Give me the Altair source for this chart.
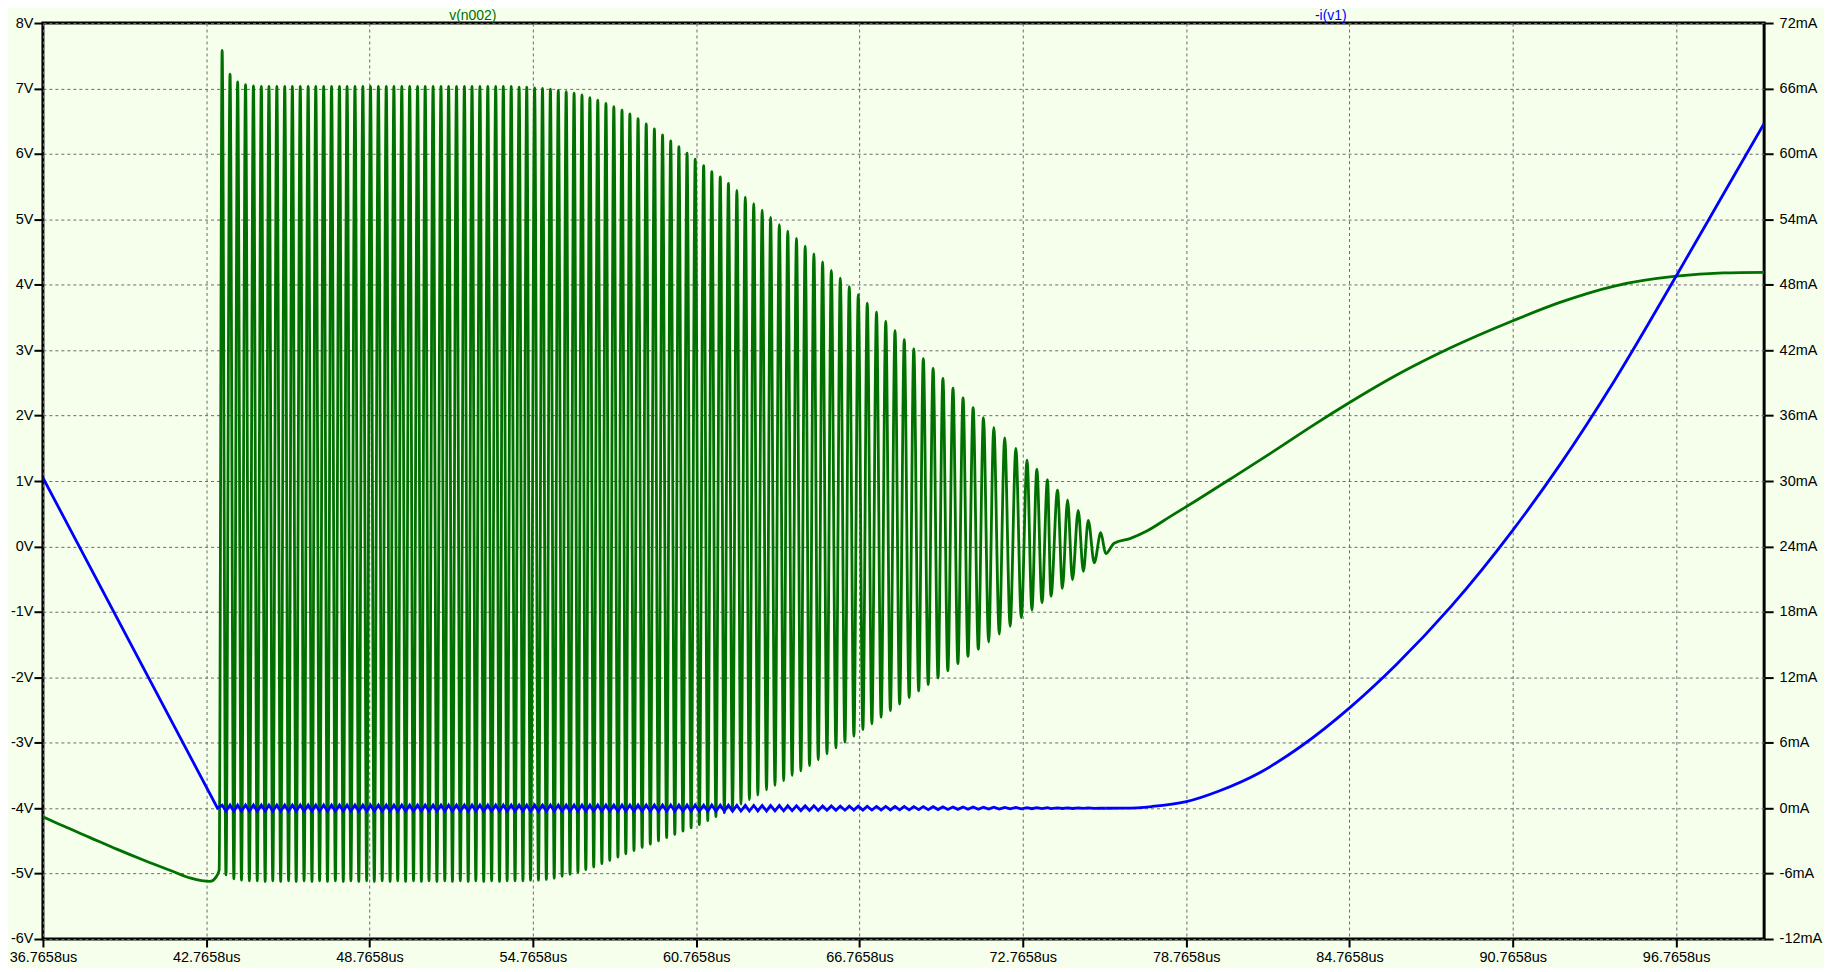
import altair as alt
import pandas as pd

# ---------------- axis ticks ----------------
x_ticks = [36.7658, 42.7658, 48.7658, 54.7658, 60.7658, 66.7658,
           72.7658, 78.7658, 84.7658, 90.7658, 96.7658]
v_ticks = [-6, -5, -4, -3, -2, -1, 0, 1, 2, 3, 4, 5, 6, 7, 8]
i_ticks = [-12, -6, 0, 6, 12, 18, 24, 30, 36, 42, 48, 54, 60, 66, 72]

# ---------------- v(n002) ----------------
v_pre_t = [36.7658, 37.5, 38.5, 39.5, 40.5, 41.5, 42.2, 42.9, 43.13, 43.24]
v_pre_v = [-4.13, -4.27, -4.45, -4.63, -4.80, -4.96, -5.07, -5.12, -5.05, -4.95]

v_peak_t = [43.35, 43.64, 43.92, 44.21, 44.50, 44.79, 45.07, 45.36, 45.65, 45.93,
            46.22, 46.51, 46.79, 47.08, 47.37, 47.66, 47.94, 48.23, 48.52, 48.80,
            49.09, 49.38, 49.66, 49.95, 50.24, 50.53, 50.81, 51.10, 51.39, 51.67,
            51.96, 52.25, 52.53, 52.82, 53.11, 53.40, 53.68, 53.97, 54.26, 54.54,
            54.83,
            55.12, 55.41, 55.70, 55.99, 56.28, 56.57, 56.86, 57.15, 57.45, 57.74,
            58.04, 58.33, 58.63, 58.93, 59.23, 59.53, 59.83, 60.13, 60.43, 60.73,
            61.04, 61.34,
            61.65, 61.95, 62.26, 62.57, 62.88, 63.19, 63.50, 63.82, 64.13, 64.45,
            64.77, 65.09, 65.41, 65.73, 66.06, 66.39, 66.72, 67.05, 67.39, 67.73,
            68.07, 68.41, 68.76, 69.11,
            69.47, 69.83, 70.20, 70.57, 70.94, 71.32, 71.70, 72.10, 72.51, 72.92,
            73.28, 73.67, 74.04, 74.41, 74.80, 75.17, 75.63]
v_peak_v = [7.58, 7.22, 7.10, 7.06, 7.04, 7.03, 7.03, 7.03, 7.03, 7.03,
            7.03, 7.03, 7.03, 7.03, 7.03, 7.03, 7.03, 7.03, 7.03, 7.03,
            7.03, 7.03, 7.03, 7.03, 7.03, 7.03, 7.03, 7.03, 7.03, 7.03,
            7.03, 7.03, 7.03, 7.03, 7.03, 7.03, 7.03, 7.03, 7.02, 7.02,
            7.01,
            7.00, 6.99, 6.97, 6.95, 6.93, 6.90, 6.86, 6.82, 6.77, 6.72,
            6.67, 6.61, 6.54, 6.46, 6.38, 6.29, 6.20, 6.11, 6.01, 5.92,
            5.82, 5.73,
            5.65, 5.55, 5.44, 5.34, 5.24, 5.14, 5.03, 4.92, 4.82, 4.71,
            4.59, 4.47, 4.35, 4.22, 4.10, 3.97, 3.85, 3.72, 3.58, 3.44,
            3.30, 3.16, 3.02, 2.87,
            2.72, 2.57, 2.42, 2.27, 2.12, 1.97, 1.82, 1.66, 1.50, 1.32,
            1.18, 1.02, 0.86, 0.71, 0.55, 0.40, 0.21]
v_trough_t = [43.49, 43.78, 44.06, 44.35, 44.64, 44.93, 45.21, 45.50, 45.79, 46.07,
              46.36, 46.65, 46.93, 47.22, 47.51, 47.80, 48.08, 48.37, 48.66, 48.94,
              49.23, 49.52, 49.80, 50.09, 50.38, 50.67, 50.95, 51.24, 51.53, 51.81,
              52.10, 52.39, 52.67, 52.96, 53.25, 53.54, 53.82, 54.11, 54.40, 54.68,
              54.97,
              55.26, 55.55, 55.84, 56.13, 56.42, 56.71, 57.00, 57.30, 57.59, 57.89,
              58.18, 58.48, 58.78, 59.08, 59.38, 59.68, 59.98, 60.28, 60.58, 60.88,
              61.19, 61.49,
              61.80, 62.10, 62.41, 62.72, 63.03, 63.35, 63.66, 63.98, 64.29, 64.61,
              64.93, 65.25, 65.57, 65.90, 66.23, 66.56, 66.89, 67.22, 67.56, 67.90,
              68.24, 68.59, 68.94, 69.29,
              69.65, 70.01, 70.38, 70.75, 71.13, 71.51, 71.90, 72.30, 72.71, 73.10,
              73.47, 73.80, 74.22, 74.59, 74.99, 75.39, 75.81]
v_trough_v = [-5.02, -5.08, -5.10, -5.11, -5.11, -5.12, -5.11, -5.12, -5.11, -5.12,
              -5.11, -5.12, -5.11, -5.12, -5.11, -5.12, -5.11, -5.12, -5.11, -5.12,
              -5.11, -5.12, -5.11, -5.12, -5.11, -5.12, -5.11, -5.12, -5.11, -5.12,
              -5.11, -5.12, -5.11, -5.12, -5.11, -5.12, -5.11, -5.11, -5.11, -5.10,
              -5.10,
              -5.09, -5.07, -5.04, -5.01, -4.98, -4.94, -4.90, -4.85, -4.80, -4.75,
              -4.70, -4.65, -4.60, -4.55, -4.50, -4.45, -4.40, -4.35, -4.30, -4.25,
              -4.19, -4.13,
              -4.07, -4.01, -3.94, -3.87, -3.80, -3.72, -3.65, -3.58, -3.50, -3.43,
              -3.35, -3.26, -3.17, -3.08, -2.99, -2.90, -2.80, -2.71, -2.61, -2.51,
              -2.41, -2.31, -2.21, -2.11,
              -2.01, -1.90, -1.79, -1.68, -1.57, -1.46, -1.34, -1.22, -1.09, -0.97,
              -0.86, -0.76, -0.64, -0.51, -0.38, -0.25, -0.11]

v_post_t = [76.12, 76.7, 77.34, 78.19, 79.17, 80.5, 82.0, 83.5, 84.77, 86.5,
            88.5, 90.77, 92.5, 94.5, 96.77, 98.5, 100.0]
v_post_v = [0.05, 0.12, 0.24, 0.46, 0.71, 1.06, 1.46, 1.87, 2.20, 2.62,
            3.04, 3.45, 3.73, 3.98, 4.13, 4.18, 4.19]

# ---------------- -i(v1) (mA) ----------------
i_pre_t = [36.7658, 43.18]
i_pre_ma = [30.3, 0.0]
i_ripple_ma = [
    0.28, 0.28, 0.28, 0.28, 0.28, 0.28, 0.28, 0.28, 0.28, 0.28,
    0.28, 0.28, 0.28, 0.28, 0.28, 0.28, 0.28, 0.28, 0.28, 0.28,
    0.28, 0.28, 0.28, 0.28, 0.28, 0.28, 0.28, 0.28, 0.28, 0.28,
    0.28, 0.28, 0.28, 0.28, 0.28, 0.28, 0.28, 0.28, 0.28, 0.28,
    0.28,
    0.28, 0.28, 0.28, 0.28, 0.28, 0.28, 0.28, 0.28, 0.28, 0.28,
    0.28, 0.28, 0.28, 0.28, 0.28, 0.28, 0.28, 0.28, 0.28, 0.28,
    0.28, 0.28,
    0.27, 0.27, 0.26, 0.26, 0.25, 0.25, 0.24, 0.24, 0.23, 0.22,
    0.22, 0.21, 0.20, 0.20, 0.19, 0.18, 0.18, 0.17, 0.16, 0.16,
    0.15, 0.15, 0.14, 0.14,
    0.13, 0.12, 0.11, 0.10, 0.10, 0.09, 0.08, 0.07, 0.06, 0.05,
    0.05, 0.04, 0.03, 0.03, 0.02, 0.02, 0.01]
i_post_t = [76.5, 77.5, 78.77, 80.0, 81.5, 83.0, 84.77, 86.5, 88.5, 90.77,
            92.5, 94.5, 96.77, 98.5, 100.0]
i_post_ma = [0.0, 0.15, 0.6, 1.6, 3.3, 5.7, 9.2, 13.2, 18.5, 25.5,
             31.5, 39.2, 48.8, 56.3, 62.8]

trace_names = ["v(n002)", "-i(v1)"]
trace_colors = ["#007000", "#0000FF"]
trace_label_t = [52.56, 84.08]

# ---------------- build tables ----------------
rows_v = list(zip(v_pre_t, v_pre_v))
for tp, vp, tt, vt in zip(v_peak_t, v_peak_v, v_trough_t, v_trough_v):
    rows_v.append((tp, vp))
    rows_v.append((tt, vt))
rows_v += list(zip(v_post_t, v_post_v))
df_v = pd.DataFrame(rows_v, columns=["t", "v"])
df_v["o"] = range(len(df_v))

rows_ia = list(zip(i_pre_t, i_pre_ma))
for tp, tt, a in zip(v_peak_t, v_trough_t, i_ripple_ma):
    rows_ia.append((tp, a))
    rows_ia.append((tt, -a))
df_ia = pd.DataFrame(rows_ia, columns=["t", "i"])
df_ia["o"] = range(len(df_ia))

rows_ib = [rows_ia[-1]] + list(zip(i_post_t, i_post_ma))
df_ib = pd.DataFrame(rows_ib, columns=["t", "i"])
df_ib["o"] = range(len(df_ib))

df_lab = pd.DataFrame({"t": trace_label_t, "name": trace_names, "color": trace_colors})

FONT = "Liberation Sans"
FS = 14.5

xenc = alt.X(
    "t:Q",
    scale=alt.Scale(domain=[36.7658, 100.0], nice=False, zero=False),
    axis=alt.Axis(values=x_ticks, labelExpr="format(datum.value, '.4f') + 'us'",
                  title=None, grid=True, tickSize=8, labelPadding=4,
                  labelFlush=False, labelOverlap=False),
)

yv = alt.Y("v:Q", scale=alt.Scale(domain=[-6, 8], nice=False, zero=False),
           axis=alt.Axis(orient="left", values=v_ticks, labelExpr="datum.value + 'V'",
                         title=None, grid=True, tickSize=9, labelPadding=1,
                         labelFlush=False, labelOverlap=False))
yi = alt.Y("i:Q", scale=alt.Scale(domain=[-12, 72], nice=False, zero=False),
           axis=alt.Axis(orient="right", values=i_ticks, labelExpr="datum.value + 'mA'",
                         title=None, grid=False, tickSize=9, labelPadding=6,
                         labelFlush=False, labelOverlap=False))

green = alt.Chart(df_v).mark_line(color="#007000", strokeWidth=2.8, clip=True,
                                  interpolate="monotone").encode(
    x=xenc, y=yv, order="o:Q")

blue_a = alt.Chart(df_ia).mark_line(color="#0000FF", strokeWidth=2.8, clip=True).encode(
    x=xenc, y=yi, order="o:Q")
blue_b = alt.Chart(df_ib).mark_line(color="#0000FF", strokeWidth=2.8, clip=True,
                                    interpolate="monotone").encode(
    x=xenc, y=yi, order="o:Q")
blue = alt.layer(blue_a, blue_b)

labels = alt.Chart(df_lab).mark_text(font=FONT, fontSize=14, baseline="middle", align="center").encode(
    x=xenc,
    y=alt.value(-7),
    text="name:N",
    color=alt.Color("color:N", scale=None),
)

chart = (
    alt.layer(green, blue, labels)
    .resolve_scale(y="independent")
    .properties(width=1725, height=918,
                autosize=alt.AutoSizeParams(type="none"),
                padding={"left": 35, "top": 14, "right": 60, "bottom": 28})
    .configure(background="#F5FFEC")
    .configure_view(stroke="black", strokeWidth=3)
    .configure_axis(domain=False, tickColor="black", tickWidth=2,
                    labelFont=FONT, labelFontSize=FS, labelColor="black",
                    gridColor="#6a6a6a", gridDash=[3, 3], gridWidth=1, gridOpacity=1)
)

chart.save("out.html", embed_options={"renderer": "svg", "actions": False})
